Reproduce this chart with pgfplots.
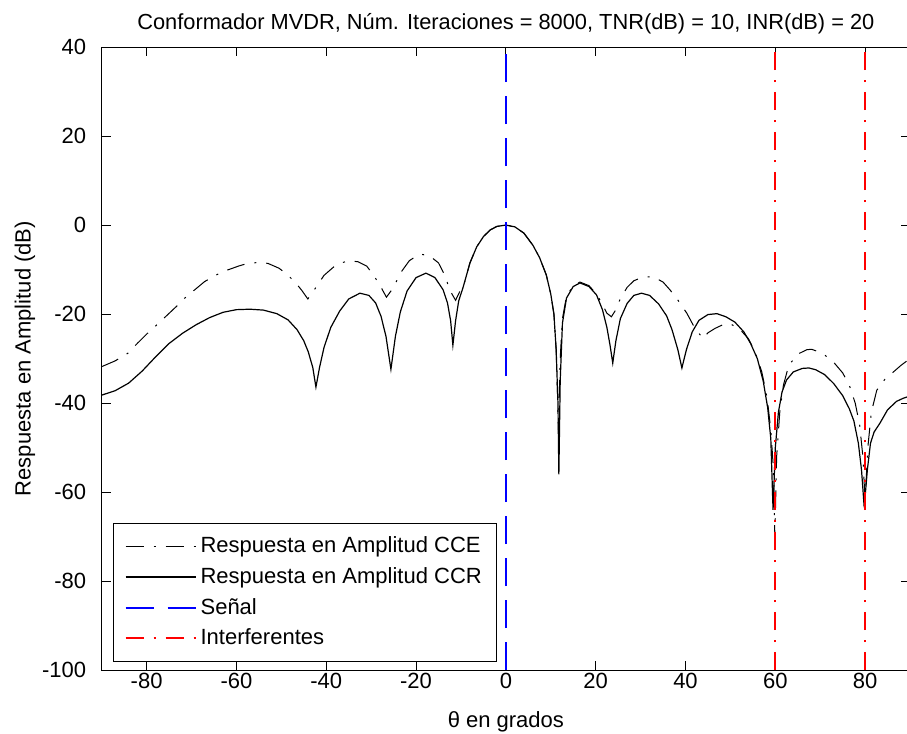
\documentclass[border=0pt]{standalone}
\usepackage{fontspec}
\setmainfont{Liberation Sans}
\usepackage{pgfplots}
\pgfplotsset{compat=1.18}
\usetikzlibrary{calc}

% CCR: respuesta en amplitud (curva continua)
\pgfplotstableread{
x y
-90 -38.2
-87 -37.2
-84 -35.5
-81 -32.8
-78 -29.6
-75 -26.6
-72 -24.3
-69 -22.4
-66 -20.8
-63 -19.6
-60 -19.0
-57 -18.9
-54 -19.1
-51 -19.9
-48.5 -21.3
-46.5 -23.5
-45 -26
-44 -28.5
-43 -32
-42.3 -36.4
-41.5 -32
-40.5 -27.5
-39 -23
-37 -19.3
-35 -16.6
-32.5 -15.3
-30.5 -15.8
-29 -17.5
-27.8 -20.5
-26.7 -25
-25.6 -32.4
-24.6 -25
-23.5 -19.5
-22 -14.8
-20 -11.8
-17.8 -10.8
-15.8 -11.8
-14 -14.5
-13 -17.5
-12.3 -21.5
-11.8 -27
-11.2 -21.5
-10.5 -17
-9.5 -13.9
-8 -8.5
-6.5 -4.9
-5 -2.6
-3.5 -1.1
-2 -0.3
0 0
2 -0.4
4 -1.8
6 -4.5
7.5 -7.3
9 -11.2
10 -15.5
10.7 -20
11.2 -28
11.6 -40
11.8 -56
12.1 -35
12.6 -22
13.5 -16.4
15 -13.8
16.5 -13
18.5 -13.8
20.2 -15.7
21.5 -19
22.5 -23
23.2 -27
23.8 -31
24.5 -26
25.5 -21
27 -17.6
28.5 -15.8
30.2 -15.3
32 -15.8
34 -17.7
35.8 -20.4
37 -23.5
38.3 -28
39.2 -32.1
40.2 -28
41.5 -24
43 -21.4
45 -20.1
47 -19.9
49 -20.6
51 -21.8
53 -24
54.5 -26.6
56 -30
57.3 -35
58.3 -41
59 -48
59.5 -64
60 -50
60.7 -42
61.5 -37.5
62.5 -34.8
64 -33
66 -32.2
67.5 -32.1
69 -32.5
71 -33.6
73 -35.6
75 -38.3
76.5 -41.3
77.5 -44
78.5 -49
79.2 -55
79.8 -63.4
80.5 -55
81.2 -49
82 -46.5
83.3 -44.5
85 -41.5
87 -39.6
88.5 -38.9
90 -38.4
}\ccr

% CCE: respuesta en amplitud (curva punto-raya)
\pgfplotstableread{
x y
-90 -31.8
-87 -30.5
-84.2 -28.8
-82 -26.5
-79.8 -24.3
-77.5 -22.2
-75.6 -20.4
-73.5 -18.4
-71.5 -16.4
-69 -14.3
-67.1 -12.7
-64.5 -11.2
-62 -10.1
-59.5 -9.2
-57.5 -8.6
-55 -8.4
-53 -8.6
-50.5 -9.7
-48.6 -11.2
-46.8 -13
-45.5 -14.6
-44.1 -16.6
-42.5 -14.3
-40.5 -11.3
-38 -9.1
-35.5 -8.1
-33 -8.2
-31 -9.2
-29.5 -11.2
-28 -13.6
-26.6 -16.2
-25 -14
-23.5 -10.8
-21.5 -8
-19.2 -6.5
-17 -6.9
-15 -8.5
-13.5 -11.5
-12.5 -14.6
-11.2 -16.9
-10.3 -15
-9.5 -13.9
-8 -8.5
-6.5 -4.9
-5 -2.6
-3.5 -1.1
-2 -0.3
0 0
2 -0.4
4 -1.8
6 -4.5
7.5 -7.3
9 -11.2
10 -15.5
10.7 -20
11.2 -28
11.5 -38
11.7 -46
12.1 -30
12.6 -21
13.5 -16
15 -13.6
16.5 -12.8
18.5 -13.6
20.2 -15.5
21.5 -17.8
22.5 -19.8
23.5 -20.6
24.5 -19
25.5 -16.5
27 -14
28.5 -12.5
30.5 -11.7
32.8 -11.6
35 -12.8
36.5 -14.5
38 -16.4
40.3 -19.8
42 -23
43.9 -25.5
45 -24.2
46.6 -23.2
48.5 -22.3
50 -22.2
52 -23.3
54 -25.5
55.5 -28.5
57 -33
58.2 -39
59 -46
59.6 -55
59.9 -70
60.3 -52
61 -42
61.8 -36
63 -31.5
65 -29
67 -28
68.1 -27.9
70.5 -28.8
72.9 -30.7
75 -33.2
76.5 -36
77.8 -40
78.8 -45
79.5 -52
80 -62
80.6 -50
81.4 -42
82.6 -37.1
84.5 -34.5
86.3 -33
88 -31.5
90 -30
}\cce

\begin{document}
\begin{tikzpicture}[font=\fontsize{11}{13}\selectfont]
\begin{axis}[
    scale only axis,
    width=404pt, height=311.5pt,
    xmin=-90, xmax=90,
    ymin=-100, ymax=40,
    xtick={-80,-60,...,80},
    ytick={-100,-80,...,40},
    tick align=inside,
    major tick length=4.5pt,
    tick style={black, line width=0.5pt},
    axis line style={line width=0.5pt},
    /pgf/number format/assume math mode=true,
    ticklabel style={font=\fontsize{11}{13}\selectfont},
    yticklabel style={xshift=-4.3pt},
    xticklabel style={yshift=2pt},
    xlabel={θ en grados},
    ylabel={Respuesta en Amplitud (dB)},
    xlabel style={at={(axis description cs:0.5,-0.083)}, anchor=center},
    ylabel style={at={(axis description cs:-0.0949,0.5)}, anchor=center},
    title={Conformador MVDR, Núm. Iteraciones = 8000, TNR(dB) = 10, INR(dB) = 20},
    title style={font=\fontsize{10.9}{12}\selectfont, at={(axis description cs:0.5,1.0401)}, anchor=center, yshift=-7pt},
    legend cell align=left,
    legend style={at={(rel axis cs:0.014,0.013)}, anchor=south west,
        draw=black, line width=0.5pt, fill=white,
        font=\fontsize{11}{13}\selectfont,
        inner xsep=5.5pt, inner ysep=5pt, row sep=1.8pt},
    legend image code/.code={\draw[#1] (1pt,0pt) -- (36pt,0pt);},
]
\addplot[draw=black, line width=0.5pt, dash pattern=on 9pt off 5pt on 1pt off 5pt] table {\cce};
\addlegendentry{Respuesta en Amplitud CCE}
\addplot[draw=black, line width=0.6pt] table {\ccr};
\addlegendentry{Respuesta en Amplitud CCR}
\addplot[draw=blue, line width=1pt, dash pattern=on 14pt off 7pt] coordinates {(0,-100) (0,40)};
\addlegendentry{Señal}
\addplot[draw=red, line width=1pt, dash pattern=on 9pt off 5pt on 1pt off 5pt] coordinates {(60,-100) (60,40)};
\addlegendentry{Interferentes}
\addplot[draw=red, line width=1pt, dash pattern=on 9pt off 5pt on 1pt off 5pt, forget plot] coordinates {(80,-100) (80,40)};
\end{axis}
\pgfresetboundingbox
\path ($(current axis.south west)+(-50.85pt,-31.5pt)$) rectangle ($(current axis.north east)+(-1.5pt,23.5pt)$);
\end{tikzpicture}
\end{document}
